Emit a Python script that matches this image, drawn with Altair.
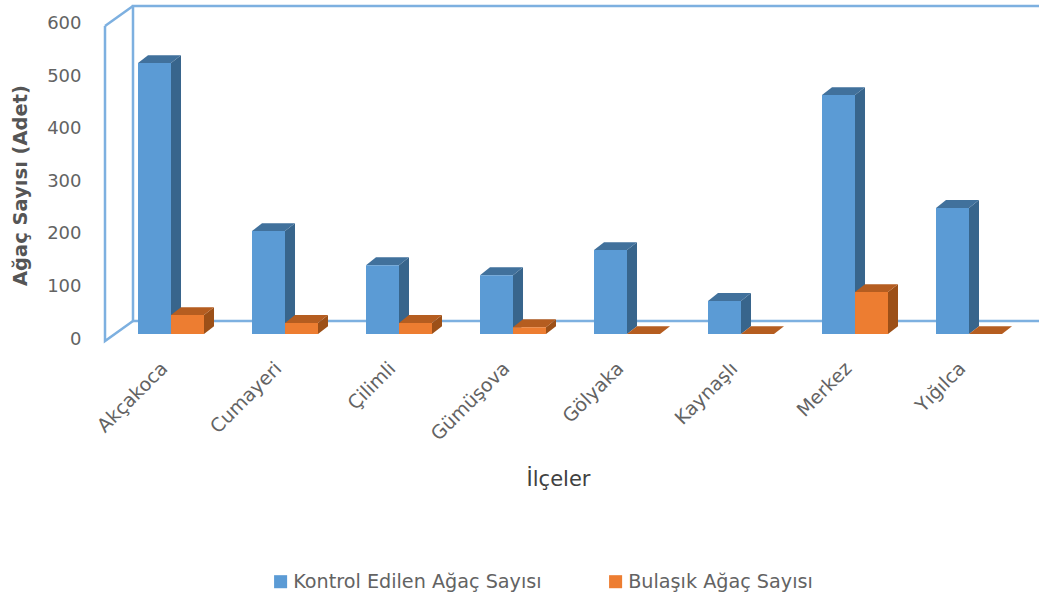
import altair as alt
import pandas as pd

districts = ["Akçakoca", "Cumayeri", "Çilimli", "Gümüşova", "Gölyaka", "Kaynaşlı", "Merkez", "Yığılca"]
checked = [516, 196, 131, 112, 160, 63, 455, 240]
infested = [36, 21, 21, 13, 0, 0, 80, 0]
series = ["Kontrol Edilen Ağaç Sayısı", "Bulaşık Ağaç Sayısı"]
y_ticks = [0, 100, 200, 300, 400, 500, 600]

# Pseudo-3D geometry, in scale units: x in category widths, y in tree counts.
PLOT_W, PLOT_H = 934, 335
X_MAX = PLOT_W / 114
Y_MAX = 638
FIRST_CENTER = 0.579
BAR_W = 33 / 114
BAR_DX, BAR_DY = 10 / 114, 15
BAR_BASE = 13.3
WALL_DX, WALL_DY = 28 / 114, 38

FONT = "DejaVu Sans"
GREY = "#636363"
WALL = "#7DB0E0"
SHADES = {
    series[0]: {"top": "#41719C", "side": "#38658C"},
    series[1]: {"top": "#B55D20", "side": "#9C5018"},
}
centers = [FIRST_CENTER + i for i in range(len(districts))]

fronts, sides, tops = [], [], []
for name, col, values in ((series[0], -1, checked), (series[1], 0, infested)):
    for d, c, v in zip(districts, centers, values):
        x0 = c + col * BAR_W
        x1 = x0 + BAR_W
        top = BAR_BASE + v
        g = f"{d}-{name}"
        fronts.append(dict(series=name, x0=x0, x1=x1, y0=BAR_BASE, y1=top, district=d))
        sides += [
            dict(g=g, series=name, x=x1, lo=BAR_BASE, hi=top),
            dict(g=g, series=name, x=x1 + BAR_DX, lo=BAR_BASE + BAR_DY, hi=top + BAR_DY),
        ]
        tops += [
            dict(g=g, series=name, x=x0, lo=top, hi=top),
            dict(g=g, series=name, x=x0 + BAR_DX, lo=top, hi=top + BAR_DY),
            dict(g=g, series=name, x=x1, lo=top, hi=top + BAR_DY),
            dict(g=g, series=name, x=x1 + BAR_DX, lo=top + BAR_DY, hi=top + BAR_DY),
        ]
fronts, sides, tops = map(pd.DataFrame, (fronts, sides, tops))

# Wall and floor outline of the chart box.
walls = pd.DataFrame(
    [
        dict(g="front", o=0, x=0, y=600),
        dict(g="front", o=1, x=0, y=0),
        dict(g="front", o=2, x=WALL_DX, y=WALL_DY),
        dict(g="back", o=0, x=WALL_DX, y=WALL_DY),
        dict(g="back", o=1, x=WALL_DX, y=600 + WALL_DY),
        dict(g="back", o=2, x=X_MAX, y=600 + WALL_DY),
        dict(g="brace", o=0, x=0, y=600),
        dict(g="brace", o=1, x=WALL_DX, y=600 + WALL_DY),
        dict(g="floor", o=0, x=WALL_DX, y=WALL_DY),
        dict(g="floor", o=1, x=X_MAX, y=WALL_DY),
    ]
)

x_scale = alt.Scale(domain=[0, X_MAX], nice=False, zero=False)
y_scale = alt.Scale(domain=[0, Y_MAX], nice=False)
name_list = "[" + ",".join(f"'{d}'" for d in districts) + "]"

x_axis = alt.Axis(
    values=centers,
    labelExpr=f"{name_list}[round(datum.value - {FIRST_CENTER})]",
    labelAngle=-45,
    labelAlign="right",
    labelBaseline="middle",
    labelFont=FONT,
    labelFontSize=19,
    labelColor=GREY,
    labelPadding=24,
    labelOffset=-7,
    labelOverlap=False,
    domain=False,
    ticks=False,
    grid=False,
    title="İlçeler",
    titleFont=FONT,
    titleFontSize=21,
    titleFontWeight="normal",
    titleColor="#404040",
    titleX=453,
    titleY=127,
)
y_axis = alt.Axis(
    values=y_ticks,
    labelFont=FONT,
    labelFontSize=18,
    labelColor=GREY,
    labelPadding=24,
    labelOffset=-2,
    domain=False,
    ticks=False,
    grid=False,
    title="Ağaç Sayısı (Adet)",
    titleFont=FONT,
    titleFontSize=19.5,
    titleFontWeight="bold",
    titleColor="#555555",
    titleX=-75,
    titleY=179,
)

wall_layer = (
    alt.Chart(walls)
    .mark_line(color=WALL, strokeWidth=2.5, clip=False)
    .encode(
        x=alt.X("x:Q", scale=x_scale, axis=x_axis),
        y=alt.Y("y:Q", scale=y_scale, axis=y_axis),
        detail="g:N",
        order="o:Q",
    )
)


def faces(frame, name, shade):
    subset = frame[frame["series"] == name]
    return (
        alt.Chart(subset)
        .mark_area(color=SHADES[name][shade], interpolate="linear", clip=False)
        .encode(
            x=alt.X("x:Q", scale=x_scale),
            y=alt.Y("lo:Q", scale=y_scale),
            y2="hi:Q",
            detail="g:N",
        )
    )


def front_faces(name):
    return (
        alt.Chart(fronts[fronts["series"] == name])
        .mark_bar(clip=False)
        .encode(
            x=alt.X("x0:Q", scale=x_scale),
            x2="x1:Q",
            y=alt.Y("y0:Q", scale=y_scale),
            y2="y1:Q",
            color=alt.Color(
                "series:N",
                scale=alt.Scale(domain=series, range=["#5B9BD5", "#ED7D31"]),
                sort=series,
                legend=alt.Legend(
                    title=None,
                    orient="none",
                    legendX=166,
                    legendY=566,
                    direction="horizontal",
                    columns=2,
                    columnPadding=64,
                    symbolType="square",
                    symbolSize=170,
                    symbolStrokeWidth=0,
                    labelFont=FONT,
                    labelFontSize=19.2,
                    labelColor=GREY,
                    labelOffset=3,
                    labelLimit=400,
                ),
            ),
        )
    )


layers = [wall_layer]
for s in series:
    layers += [faces(sides, s, "side"), faces(tops, s, "top"), front_faces(s)]

chart = (
    alt.layer(*layers)
    .properties(
        width=PLOT_W,
        height=PLOT_H,
        autosize=alt.AutoSizeParams(type="none"),
        padding={"left": 105, "top": 6, "right": 0, "bottom": 254},
        background="white",
    )
    .configure_view(stroke=None)
)

chart.save("out.html", embed_options={"renderer": "svg", "actions": False})
